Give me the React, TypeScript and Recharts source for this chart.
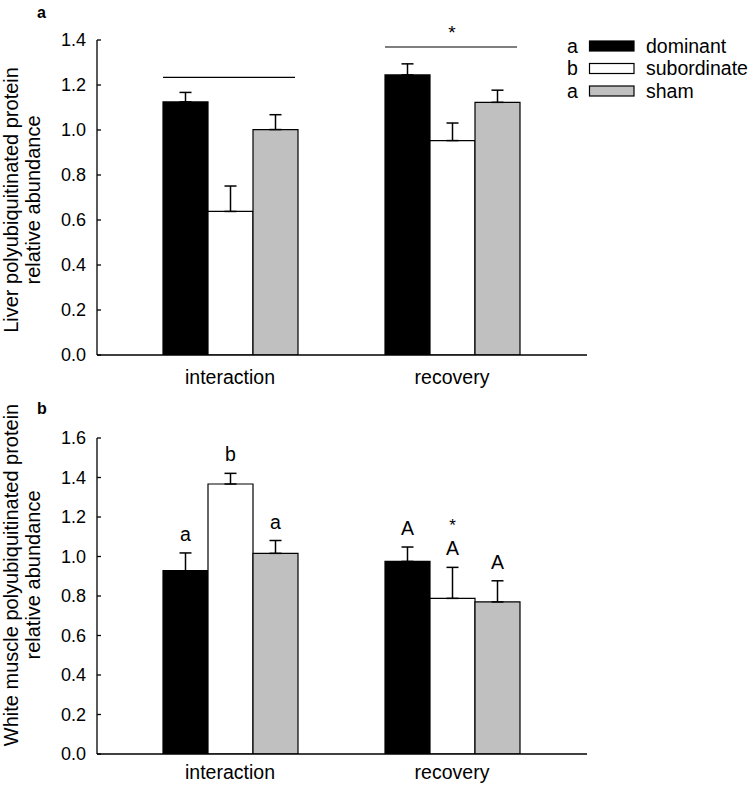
import React from "react";
import { BarChart, Bar, XAxis, YAxis, ErrorBar, ReferenceLine, LabelList, Label } from "recharts";

const FONT = "'Liberation Sans', Arial, sans-serif";

const categories = ["interaction", "recovery"];
const seriesNames = ["dominant", "subordinate", "sham"];
const seriesFills = ["#000000", "#ffffff", "#c0c0c0"];
const legendGroups = ["a", "b", "a"];

// panel a: liver
const liverDominant = [1.125, 1.245];
const liverSubordinate = [0.638, 0.953];
const liverSham = [1.002, 1.123];
const liverDominantSe = [0.042, 0.049];
const liverSubordinateSe = [0.113, 0.078];
const liverShamSe = [0.066, 0.054];
const liverBracketHeights = [1.234, 1.369];
const liverBracketMarks = ["", "*"];
const liverTicks = [0, 0.2, 0.4, 0.6, 0.8, 1.0, 1.2, 1.4];

// panel b: white muscle
const muscleDominant = [0.928, 0.975];
const muscleSubordinate = [1.367, 0.788];
const muscleSham = [1.016, 0.77];
const muscleDominantSe = [0.09, 0.073];
const muscleSubordinateSe = [0.054, 0.157];
const muscleShamSe = [0.065, 0.107];
const muscleDominantLetters = ["a", "A"];
const muscleSubordinateLetters = ["b", "A"];
const muscleShamLetters = ["a", "A"];
const muscleSubordinateMarks = ["", "*"];
const muscleTicks = [0, 0.2, 0.4, 0.6, 0.8, 1.0, 1.2, 1.4, 1.6];

const liverMeans = [liverDominant, liverSubordinate, liverSham];
const liverSes = [liverDominantSe, liverSubordinateSe, liverShamSe];
const muscleMeans = [muscleDominant, muscleSubordinate, muscleSham];
const muscleSes = [muscleDominantSe, muscleSubordinateSe, muscleShamSe];
const muscleLetters = [muscleDominantLetters, muscleSubordinateLetters, muscleShamLetters];
const muscleMarks = [null, muscleSubordinateMarks, null];

function buildRows(means: number[][], ses: number[][], letters?: string[][]) {
  return categories.map((category, c) => {
    const row: any = { category };
    seriesNames.forEach((s, i) => {
      row[s] = means[i][c];
      row[s + "Err"] = [0, ses[i][c]];
      if (letters) row[s + "Label"] = letters[i][c];
    });
    return row;
  });
}

const liverRows = buildRows(liverMeans, liverSes);
const muscleRows = buildRows(muscleMeans, muscleSes, muscleLetters);

function AxisTitle({ lines, cy }: { lines: string[]; cy: number }) {
  const xs = [18, 40];
  return (
    <g>
      {lines.map((t, i) => (
        <text key={t} x={xs[i]} y={cy} transform={`rotate(-90, ${xs[i]}, ${cy})`} textAnchor="middle" fontSize={20} fill="#000" fontFamily={FONT}>
          {t}
        </text>
      ))}
    </g>
  );
}

const letterContent = (means: number[], ses: number[], marks: string[] | null) => (p: any) => {
  const { x, y, width, height, value, index } = p;
  const top = y - (ses[index] * height) / means[index];
  const cx = x + width / 2;
  const base = top - 12;
  return (
    <g>
      <text x={cx} y={base} textAnchor="middle" fontSize={19.5} fill="#000" fontFamily={FONT}>{value}</text>
      {marks && marks[index] ? (
        <text x={cx} y={base - 24} textAnchor="middle" fontSize={17} fill="#000" fontFamily={FONT}>{marks[index]}</text>
      ) : null}
    </g>
  );
};

function Panel(props: any) {
  const { top, height, marginTop, rows, ticks, yMax, tickMargin, title, titleCenter, means, ses, letters, brackets, marks } = props;
  const axisStyle = { stroke: "#000", strokeWidth: 1.3 };
  return (
    <div style={{ position: "absolute", left: 0, top }}>
      <BarChart width={749} height={height} data={rows} margin={{ top: marginTop, right: 162, bottom: 5, left: 0 }} barGap={0} barSize={45} style={{ fontFamily: FONT }}>
        <XAxis dataKey="category" padding={{ left: 22, right: 24 }} height={35} tickLine={false} tickSize={0} tickMargin={tickMargin} axisLine={axisStyle} tick={{ fill: "#000", fontSize: 19.5, fontFamily: FONT }} />
        <YAxis width={97} type="number" domain={[0, yMax]} ticks={ticks} allowDataOverflow tickFormatter={(v: number) => v.toFixed(1)} tickSize={-4} tickMargin={15} tickLine={axisStyle} axisLine={axisStyle} tick={{ fill: "#000", fontSize: 18, fontFamily: FONT }}>
          <Label content={() => <AxisTitle lines={title} cy={titleCenter} />} />
        </YAxis>
        {seriesNames.map((s, i) => (
          <Bar key={s} dataKey={s} fill={seriesFills[i]} stroke="#000" strokeWidth={1.2} isAnimationActive={false}>
            <ErrorBar dataKey={s + "Err"} direction="y" width={6} stroke="#000" strokeWidth={1.5} isAnimationActive={false} />
            {letters ? <LabelList dataKey={s + "Label"} content={letterContent(means[i], ses[i], marks[i])} /> : null}
          </Bar>
        ))}
        {brackets
          ? categories.map((cat, c) => (
              <ReferenceLine
                key={cat}
                segment={[{ x: cat, y: brackets[c] }, { x: cat, y: brackets[c] }]}
                ifOverflow="visible"
                shape={(p: any) => (
                  <g>
                    <line x1={p.x1 - 67} x2={p.x1 + 65} y1={p.y1} y2={p.y1} stroke="#000" strokeWidth={1.2} />
                    {marks[c] ? (
                      <text x={p.x1} y={p.y1 - 7.5} textAnchor="middle" fontSize={19} fill="#000" fontFamily={FONT}>{marks[c]}</text>
                    ) : null}
                  </g>
                )}
              />
            ))
          : null}
      </BarChart>
    </div>
  );
}

export default function App() {
  return (
    <div style={{ position: "absolute", left: 0, top: 0, width: 749, height: 789, background: "#fff", fontFamily: FONT }}>
      <Panel
        top={0}
        height={395}
        marginTop={40}
        rows={liverRows}
        ticks={liverTicks}
        yMax={1.4}
        tickMargin={15}
        title={["Liver polyubiquitinated protein", "relative abundance"]}
        titleCenter={200}
        means={liverMeans}
        ses={liverSes}
        brackets={liverBracketHeights}
        marks={liverBracketMarks}
      />
      <Panel
        top={390}
        height={404}
        marginTop={48}
        rows={muscleRows}
        ticks={muscleTicks}
        yMax={1.6}
        tickMargin={11}
        title={["White muscle polyubiquitinated protein", "relative abundance"]}
        titleCenter={185}
        means={muscleMeans}
        ses={muscleSes}
        letters={muscleLetters}
        marks={muscleMarks}
      />
      <svg width={749} height={789} style={{ position: "absolute", left: 0, top: 0, pointerEvents: "none" }} fontFamily={FONT}>
        <text x={37} y={17.5} fontSize={16} fontWeight="bold" fill="#000">a</text>
        <text x={37} y={413.5} fontSize={16} fontWeight="bold" fill="#000">b</text>
        {seriesNames.map((s, i) => {
          const cy = 46 + i * 22.5;
          return (
            <g key={s}>
              <text x={567} y={cy + 6.5} fontSize={19.5} fill="#000">{legendGroups[i]}</text>
              <rect x={589.5} y={cy - 5} width={44.5} height={10} fill={seriesFills[i]} stroke="#000" strokeWidth={1.2} />
              <text x={646} y={cy + 6.5} fontSize={19.5} fill="#000">{s}</text>
            </g>
          );
        })}
      </svg>
    </div>
  );
}
